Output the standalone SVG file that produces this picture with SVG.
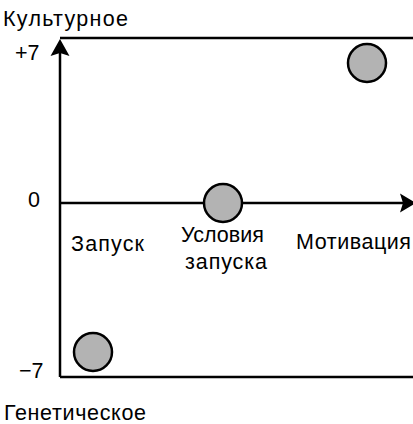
<svg xmlns="http://www.w3.org/2000/svg" width="413" height="424" viewBox="0 0 413 424">
<style>
.ax{stroke:#000;stroke-width:2.5;fill:none}
.pt{fill:#b3b3b3;stroke:#000;stroke-width:2.5}
text{font-family:"Liberation Sans",Arial,sans-serif;font-size:21.5px;fill:#000}
</style>
<rect width="413" height="424" fill="#fff"/>
<g id="axes">
<path class="ax" d="M60 38H413M60 377H413M60 377V52M60 203H404"/>
<path d="M60 39L69.5 56L60 53L50.5 56Z" fill="#000"/>
<path d="M416 203L400 193.5L403 203L400 212.5Z" fill="#000"/>
</g>
<g id="labels">
<text x="3" y="26" textLength="125" lengthAdjust="spacing">Культурное</text>
<text x="15" y="60">+7</text>
<text x="28" y="207">0</text>
<text x="19" y="378">−7</text>
<text x="4" y="420" textLength="142" lengthAdjust="spacing">Генетическое</text>
</g>
<g id="node-zapusk"><circle class="pt" cx="93" cy="352" r="19"/><text x="71" y="251" textLength="73" lengthAdjust="spacing">Запуск</text></g>
<g id="node-usloviya"><circle class="pt" cx="223" cy="203" r="19"/><text x="181" y="242" textLength="83" lengthAdjust="spacing">Условия</text><text x="185" y="269" textLength="82" lengthAdjust="spacing">запуска</text></g>
<g id="node-motivaciya"><circle class="pt" cx="367" cy="63" r="19"/><text x="296" y="249" textLength="115" lengthAdjust="spacing">Мотивация</text></g>
</svg>
